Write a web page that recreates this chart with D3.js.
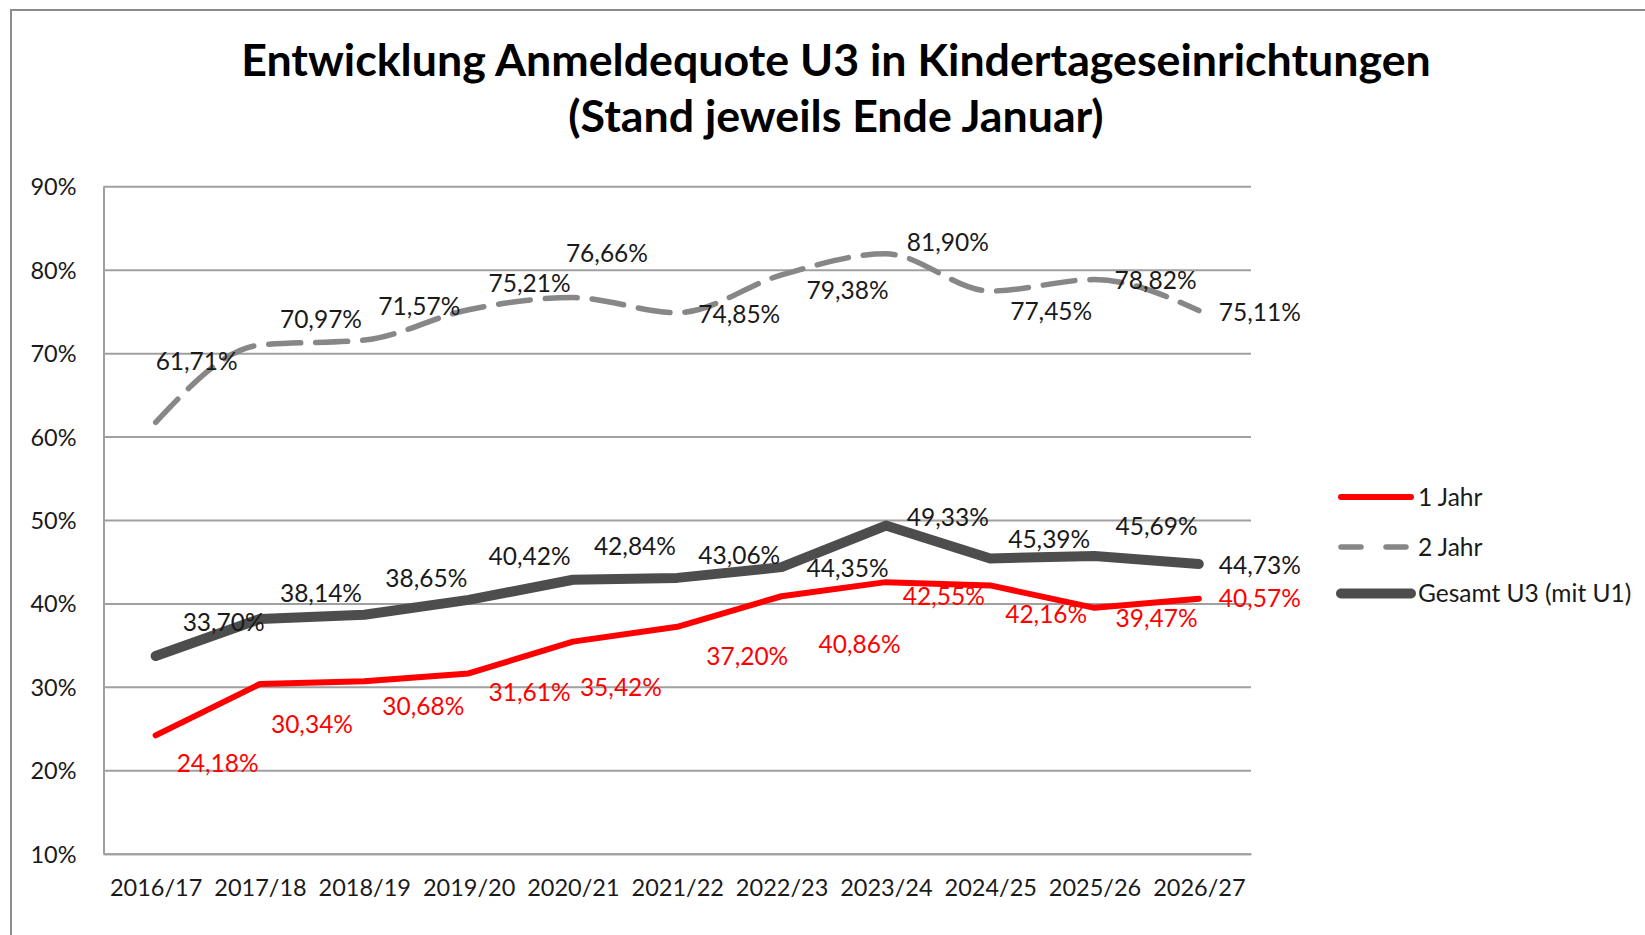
<!DOCTYPE html>
<html>
<head>
<meta charset="utf-8">
<script src="https://cdn.jsdelivr.net/npm/d3@7"></script>
<style>
  html, body { margin: 0; padding: 0; background: #fff; }
  svg { display: block; }
  text { font-family: Lato, "Open Sans", "Liberation Sans", sans-serif; }
</style>
</head>
<body>
<svg id="chart" width="1645" height="935"></svg>
<script>
// ---------- data ----------
const categories = ["2016/17","2017/18","2018/19","2019/20","2020/21","2021/22","2022/23","2023/24","2024/25","2025/26","2026/27"];
const jahr1  = [24.18, 30.34, 30.68, 31.61, 35.42, 37.20, 40.86, 42.55, 42.16, 39.47, 40.57];
const jahr2  = [61.71, 70.97, 71.57, 75.21, 76.66, 74.85, 79.38, 81.90, 77.45, 78.82, 75.11];
const gesamt = [33.70, 38.14, 38.65, 40.42, 42.84, 43.06, 44.35, 49.33, 45.39, 45.69, 44.73];
const yTicks = [10, 20, 30, 40, 50, 60, 70, 80, 90];
const seriesNames = ["1 Jahr", "2 Jahr", "Gesamt U3 (mit U1)"];
const titleLines = ["Entwicklung Anmeldequote U3 in Kindertageseinrichtungen", "(Stand jeweils Ende Januar)"];

// ---------- layout (label offsets in px, relative to each point) ----------
const offJahr1  = [[62,28],[52,40],[59,25],[61,19],[48,46],[70,29],[78,48],[58,14],[56,29],[62,10],[61,0]];
const offJahr2  = [[41,-61],[61,-26],[55,-34],[61,-27],[34,-44],[62,1],[66,15],[62,-12],[61,20],[61,1],[61,2]];
const offGesamt = [[68,-34],[61,-26],[62,-37],[61,-44],[62,-34],[62,-23],[66,1],[62,-8],[59,-19],[62,-30],[61,1]];

const W = 1645, H = 935;
const plot = { left: 103.5, right: 1251, top: 186.3, bottom: 853.7 };
const svg = d3.select("#chart");

// frame
svg.append("rect").attr("x", 11).attr("y", 10).attr("width", W).attr("height", H)
  .attr("fill", "#fff").attr("stroke", "#8c8c8c").attr("stroke-width", 2);

// title
const titleText = svg.append("g").selectAll("text").data(titleLines).join("text")
  .attr("x", 836).attr("y", (d, i) => [76, 131.5][i])
  .attr("text-anchor", "middle").attr("font-weight", 700).attr("fill", "#000")
  .attr("font-size", 40).text(d => d);
const w0 = titleText.nodes()[0].getComputedTextLength();
titleText.attr("font-size", 40 * 1190 / w0);

// scales
const x = d3.scalePoint().domain(categories).range([plot.left, plot.right]).padding(0.5);
const y = d3.scaleLinear().domain([10, 90]).range([plot.bottom, plot.top]);

const de = d3.formatLocale({ decimal: ",", thousands: ".", grouping: [3], currency: ["", "€"] });
const fmt2 = de.format(".2f");
const fmt0 = de.format("d");

const axisFs = 23.5, labelFs = 24.5, legendFs = 24.5;
const gridColor = "#a0a0a0";
const textColor = "#1a1a1a";

// y axis with gridlines
const yAxis = svg.append("g").attr("transform", `translate(${plot.left},0)`)
  .call(d3.axisLeft(y).tickValues(yTicks).tickFormat(d => fmt0(d) + "%")
    .tickSizeInner(-(plot.right - plot.left)).tickSizeOuter(0).tickPadding(27));
yAxis.selectAll(".tick line").attr("stroke", gridColor).attr("stroke-width", 2);
yAxis.select(".domain").attr("stroke", gridColor).attr("stroke-width", 2);
yAxis.selectAll(".tick text").attr("font-size", axisFs).attr("fill", textColor)
  .attr("font-family", "Lato, 'Open Sans', sans-serif").attr("dy", "0.36em");

// x axis
const xAxis = svg.append("g").attr("transform", `translate(0,${plot.bottom})`)
  .call(d3.axisBottom(x).tickSize(0).tickPadding(34));
xAxis.select(".domain").attr("stroke", gridColor).attr("stroke-width", 2);
xAxis.selectAll(".tick text").attr("font-size", axisFs).attr("fill", textColor)
  .attr("font-family", "Lato, 'Open Sans', sans-serif").attr("dy", "0.36em");

// series
const series = [
  { name: seriesNames[0], values: jahr1,  color: "#ff0000", width: 6,  dash: null,    curve: d3.curveLinear,  off: offJahr1,  labelColor: "#ff0000" },
  { name: seriesNames[1], values: jahr2,  color: "#878787", width: 5.5, dash: "32,15", curve: d3.curveMonotoneX, off: offJahr2, labelColor: textColor },
  { name: seriesNames[2], values: gesamt, color: "#4d4d4d", width: 10, dash: null,    curve: d3.curveLinear,  off: offGesamt, labelColor: textColor }
];

const lineGen = (curve) => d3.line().x((d, i) => x(categories[i])).y(d => y(d)).curve(curve);

svg.append("g").selectAll("path").data(series).join("path")
  .attr("d", s => lineGen(s.curve)(s.values))
  .attr("fill", "none").attr("stroke", s => s.color).attr("stroke-width", s => s.width)
  .attr("stroke-linecap", "round").attr("stroke-linejoin", "round")
  .attr("stroke-dasharray", s => s.dash);

// data labels
const labels = svg.append("g");
series.forEach(s => {
  labels.append("g").selectAll("text").data(s.values).join("text")
    .attr("x", (d, i) => x(categories[i]) + s.off[i][0])
    .attr("y", (d, i) => y(d) + s.off[i][1])
    .attr("dy", "0.36em").attr("text-anchor", "middle")
    .attr("font-size", labelFs).attr("fill", s.labelColor)
    .text(d => fmt2(d) + "%");
});

// legend
const legY = [497, 547, 593.5];
const leg = svg.append("g");
series.forEach((s, i) => {
  leg.append("line").attr("x1", 1341).attr("x2", 1411).attr("y1", legY[i]).attr("y2", legY[i])
    .attr("stroke", s.color).attr("stroke-width", s.width).attr("stroke-linecap", "round")
    .attr("stroke-dasharray", s.dash ? "20,25" : null);
  leg.append("text").attr("x", 1418).attr("y", legY[i]).attr("dy", "0.36em")
    .attr("font-size", legendFs).attr("fill", textColor).text(s.name);
});
</script>
</body>
</html>
